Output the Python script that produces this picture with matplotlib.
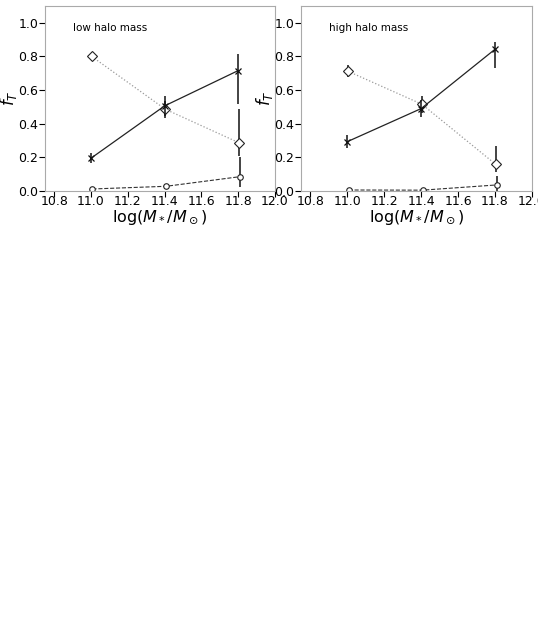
import matplotlib
matplotlib.use("Agg")
import matplotlib.pyplot as plt
import numpy as np

mass_bins = [11.0, 11.4, 11.8]
offsets = {"cross": 0.0, "diamond": 0.004, "circle": 0.008}

# low halo mass panel
low_cross = [0.195, 0.506, 0.716]
low_cross_lo = [0.03, 0.06, 0.20]
low_cross_hi = [0.03, 0.06, 0.10]
low_diamond = [0.800, 0.486, 0.287]
low_diamond_lo = [0.025, 0.05, 0.08]
low_diamond_hi = [0.025, 0.05, 0.20]
low_circle = [0.012, 0.028, 0.085]
low_circle_lo = [0.008, 0.01, 0.06]
low_circle_hi = [0.008, 0.01, 0.12]

# high halo mass panel
high_cross = [0.293, 0.490, 0.843]
high_cross_lo = [0.04, 0.05, 0.11]
high_cross_hi = [0.04, 0.05, 0.04]
high_diamond = [0.712, 0.516, 0.158]
high_diamond_lo = [0.035, 0.05, 0.045]
high_diamond_hi = [0.035, 0.05, 0.11]
high_circle = [0.006, 0.005, 0.036]
high_circle_lo = [0.004, 0.004, 0.036]
high_circle_hi = [0.004, 0.004, 0.055]

titles = ["low halo mass", "high halo mass"]
xticks = [10.8, 11.0, 11.2, 11.4, 11.6, 11.8, 12.0]
yticks = [0.0, 0.2, 0.4, 0.6, 0.8, 1.0]

fig = plt.figure(figsize=(5.38, 6.41), dpi=100)
ax1 = fig.add_axes([45/538, 1-191/641, 230/538, 185/641])
ax2 = fig.add_axes([301/538, 1-191/641, 231/538, 185/641])

panels = [
    (ax1, low_cross, low_cross_lo, low_cross_hi, low_diamond, low_diamond_lo, low_diamond_hi,
     low_circle, low_circle_lo, low_circle_hi, titles[0]),
    (ax2, high_cross, high_cross_lo, high_cross_hi, high_diamond, high_diamond_lo, high_diamond_hi,
     high_circle, high_circle_lo, high_circle_hi, titles[1]),
]

x = np.array(mass_bins)
for (ax, c, clo, chi, d, dlo, dhi, o, olo, ohi, title) in panels:
    ax.errorbar(x + offsets["circle"], o, yerr=[olo, ohi], color="#333333", ls="--", lw=0.8,
                marker="o", ms=4, mfc="white", mec="#222222", mew=0.8, ecolor="#111111",
                elinewidth=1.1, capsize=0, zorder=2)
    ax.errorbar(x + offsets["diamond"], d, yerr=[dlo, dhi], color="#999999", ls=":", lw=0.9,
                marker="D", ms=5, mfc="white", mec="#222222", mew=0.8, ecolor="#111111",
                elinewidth=1.1, capsize=0, zorder=3)
    ax.errorbar(x + offsets["cross"], c, yerr=[clo, chi], color="#222222", ls="-", lw=0.9,
                marker="x", ms=5, mec="#111111", mew=0.9, ecolor="#111111",
                elinewidth=1.1, capsize=0, zorder=4)
    ax.set_xlim(10.75, 12.0)
    ax.set_ylim(0, 1.1)
    ax.set_xticks(xticks)
    ax.set_yticks(yticks)
    ax.set_xticklabels([f"{t:.1f}" for t in xticks])
    ax.set_yticklabels([f"{t:.1f}" for t in yticks])
    ax.tick_params(axis="both", direction="out", length=4, width=0.8, labelsize=9,
                   color="black")
    ax.tick_params(axis="x", pad=-1)
    ax.tick_params(axis="y", pad=1)
    for sp in ax.spines.values():
        sp.set_color("#aaaaaa")
        sp.set_linewidth(0.8)
    ax.set_xlabel(r"$\log(M_*/M_\odot)$", fontsize=11.5, labelpad=0)
    ax.set_ylabel(r"$f_T$", fontsize=12, labelpad=-1)
    ax.text(0.12, 0.88, title, transform=ax.transAxes, fontsize=7.5, ha="left", va="center")

fig.savefig("out.png", dpi=100)
